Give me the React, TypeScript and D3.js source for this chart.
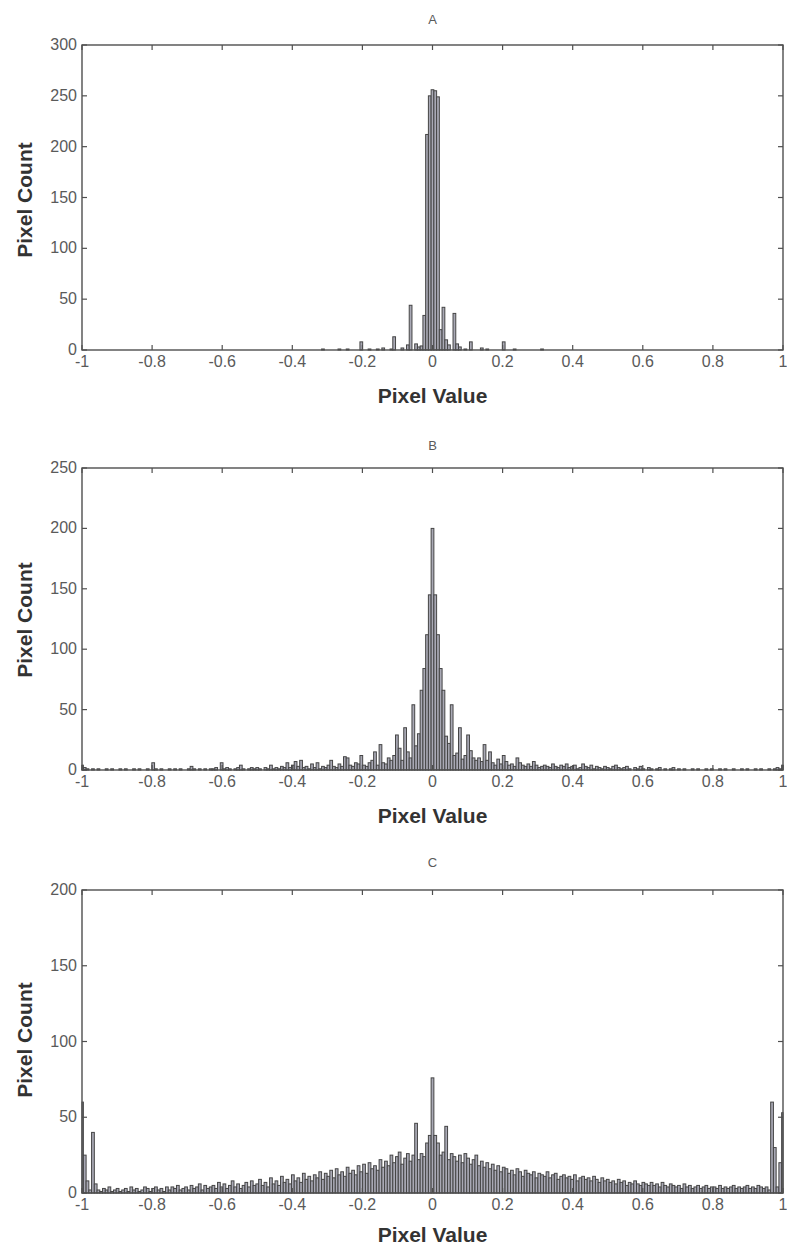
import React from 'react';
import * as d3 from 'd3';

// ---- data (bin centres k/128, k = -128..128) ----
const binStep = 1 / 128;
const binCenters: number[] = d3.range(-128, 129).map((k) => k * binStep);

const xTickValues = [-1, -0.8, -0.6, -0.4, -0.2, 0, 0.2, 0.4, 0.6, 0.8, 1];
const xTickLabels = ['-1', '-0.8', '-0.6', '-0.4', '-0.2', '0', '0.2', '0.4', '0.6', '0.8', '1'];
const yTicksA = [0, 50, 100, 150, 200, 250, 300];
const yTicksB = [0, 50, 100, 150, 200, 250];
const yTicksC = [0, 50, 100, 150, 200];
const panelTitles = ['A', 'B', 'C'];

const countsA = [
  0, 0, 0, 0, 0, 0, 0, 0, 0, 0, 0, 0, 0, 0, 0, 0,
  0, 0, 0, 0, 0, 0, 0, 0, 0, 0, 0, 0, 0, 0, 0, 0,
  0, 0, 0, 0, 0, 0, 0, 0, 0, 0, 0, 0, 0, 0, 0, 0,
  0, 0, 0, 0, 0, 0, 0, 0, 0, 0, 0, 0, 0, 0, 0, 0,
  0, 0, 0, 0, 0, 0, 0, 0, 0, 0, 0, 0, 0, 0, 0, 0,
  0, 0, 0, 0, 0, 0, 0, 0, 1, 0, 0, 0, 0, 0, 1, 0,
  0, 1, 0, 0, 0, 0, 8, 0, 0, 1, 0, 0, 1, 0, 2, 0,
  0, 1, 13, 0, 0, 2, 0, 5, 44, 0, 6, 3, 4, 34, 212, 250,
  256,
  255, 249, 20, 42, 10, 5, 0, 36, 6, 3, 0, 1, 0, 8, 0, 0,
  0, 2, 0, 1, 0, 0, 0, 0, 0, 8, 0, 0, 0, 1, 0, 0,
  0, 0, 0, 0, 0, 0, 0, 1, 0, 0, 0, 0, 0, 0, 0, 0,
  0, 0, 0, 0, 0, 0, 0, 0, 0, 0, 0, 0, 0, 0, 0, 0,
  0, 0, 0, 0, 0, 0, 0, 0, 0, 0, 0, 0, 0, 0, 0, 0,
  0, 0, 0, 0, 0, 0, 0, 0, 0, 0, 0, 0, 0, 0, 0, 0,
  0, 0, 0, 0, 0, 0, 0, 0, 0, 0, 0, 0, 0, 0, 0, 0,
  0, 0, 0, 0, 0, 0, 0, 0, 0, 0, 0, 0, 0, 0, 0, 0,
];

const countsB = [
  4, 2, 1, 0, 1, 0, 1, 0, 0, 1, 0, 1, 0, 0, 1, 0,
  1, 0, 0, 1, 0, 1, 0, 0, 1, 0, 6, 1, 0, 1, 0, 0,
  1, 0, 1, 0, 1, 0, 0, 1, 3, 1, 0, 1, 0, 1, 0, 1,
  1, 2, 0, 6, 1, 2, 1, 0, 1, 2, 4, 1, 0, 1, 2, 1,
  2, 1, 0, 2, 1, 4, 1, 2, 1, 3, 2, 6, 2, 4, 7, 3,
  8, 2, 3, 1, 5, 2, 6, 1, 3, 2, 4, 8, 3, 2, 5, 3,
  11, 10, 4, 3, 6, 5, 12, 4, 3, 6, 8, 15, 4, 21, 6, 5,
  10, 8, 12, 29, 18, 8, 35, 15, 10, 54, 20, 30, 66, 84, 112, 145,
  200,
  145, 112, 84, 66, 28, 22, 54, 12, 14, 35, 9, 12, 29, 16, 10, 8,
  10, 7, 21, 8, 15, 6, 4, 9, 5, 12, 7, 4, 5, 3, 10, 6,
  4, 3, 5, 3, 7, 4, 2, 3, 4, 3, 2, 5, 3, 2, 4, 3,
  5, 2, 3, 4, 1, 2, 5, 3, 2, 4, 1, 3, 2, 1, 3, 2,
  1, 3, 4, 2, 1, 2, 3, 1, 0, 2, 1, 3, 1, 0, 2, 1,
  0, 1, 2, 0, 1, 0, 1, 2, 0, 1, 0, 1, 0, 0, 1, 0,
  1, 0, 0, 1, 0, 1, 0, 0, 1, 0, 1, 0, 0, 1, 0, 0,
  1, 0, 1, 0, 0, 1, 0, 1, 0, 0, 1, 0, 1, 2, 1, 4,
];

const countsC = [
  60, 25, 8, 2, 40, 6, 2, 1, 3, 2, 4, 1, 2, 3, 1, 2,
  3, 1, 4, 2, 3, 1, 2, 4, 3, 1, 3, 4, 2, 3, 1, 4,
  2, 4, 3, 5, 2, 3, 4, 2, 5, 3, 4, 6, 2, 5, 3, 4,
  5, 3, 7, 4, 6, 3, 5, 8, 4, 6, 3, 5, 7, 4, 8, 5,
  6, 9, 5, 7, 4, 10, 6, 8, 5, 11, 7, 9, 6, 12, 8, 10,
  7, 13, 9, 11, 8, 12, 10, 14, 9, 13, 11, 15, 10, 16, 12, 14,
  11, 17, 13, 15, 12, 18, 14, 19, 13, 20, 16, 18, 15, 22, 17, 21,
  18, 25, 20, 24, 27, 19, 23, 26, 21, 25, 46, 22, 26, 24, 33, 38,
  76,
  38, 33, 25, 27, 44, 22, 26, 24, 21, 25, 20, 26, 23, 19, 22, 25,
  18, 21, 17, 20, 16, 19, 15, 18, 14, 17, 16, 13, 15, 12, 16, 14,
  11, 15, 13, 12, 14, 10, 13, 12, 11, 14, 10, 12, 13, 9, 11, 12,
  10, 11, 9, 12, 8, 10, 11, 9, 10, 8, 11, 9, 7, 10, 8, 9,
  7, 8, 6, 9, 7, 8, 5, 7, 6, 8, 6, 5, 7, 6, 5, 7,
  5, 6, 4, 7, 5, 4, 6, 5, 4, 5, 3, 6, 4, 5, 3, 4,
  5, 3, 4, 5, 3, 4, 4, 3, 5, 3, 4, 3, 4, 5, 3, 4,
  3, 4, 5, 3, 4, 3, 5, 4, 3, 4, 2, 60, 30, 4, 20, 53,
];

// ---- layout ----
const W = 787;
const H = 1251;
const PLOT_LEFT = 82;
const PLOT_RIGHT = 783;

const panels = [
  { title: panelTitles[0], counts: countsA, yTicks: yTicksA, top: 45, bottom: 350, titleY: 24, xLabelY: 403, yLabelY: 200 },
  { title: panelTitles[1], counts: countsB, yTicks: yTicksB, top: 468, bottom: 770, titleY: 450, xLabelY: 823, yLabelY: 620 },
  { title: panelTitles[2], counts: countsC, yTicks: yTicksC, top: 890, bottom: 1193, titleY: 867, xLabelY: 1242, yLabelY: 1040 },
];

const AXIS = '#4f4f4f';
const TEXT = '#5a5a5a';
const LABEL = '#333333';
const BAR_FILL = '#a9a9b5';
const BAR_EDGE = '#454545';
const FONT = '"Liberation Sans", Arial, sans-serif';

function Panel({ p }: { p: (typeof panels)[number] }) {
  const x = d3.scaleLinear().domain([-1, 1]).range([PLOT_LEFT, PLOT_RIGHT]);
  const yMax = d3.max(p.yTicks) as number;
  const y = d3.scaleLinear().domain([0, yMax]).range([p.bottom, p.top]);
  const tickLen = 5;
  const cx = (PLOT_LEFT + PLOT_RIGHT) / 2;

  return (
    <g>
      <text x={cx} y={p.titleY} textAnchor="middle" fontSize={13} fill={TEXT} fontFamily={FONT}>
        {p.title}
      </text>
      {/* bars */}
      <g>
        {p.counts.map((c, i) => {
          if (!c) return null;
          const v = binCenters[i];
          const x0 = Math.max(PLOT_LEFT, x(v - binStep / 2));
          const x1 = Math.min(PLOT_RIGHT, x(v + binStep / 2));
          return (
            <rect
              key={i}
              x={x0}
              y={y(c)}
              width={Math.max(0.5, x1 - x0)}
              height={p.bottom - y(c)}
              fill={BAR_FILL}
              stroke={BAR_EDGE}
              strokeWidth={1}
            />
          );
        })}
      </g>
      {/* box */}
      <rect
        x={PLOT_LEFT}
        y={p.top}
        width={PLOT_RIGHT - PLOT_LEFT}
        height={p.bottom - p.top}
        fill="none"
        stroke={AXIS}
        strokeWidth={1.4}
      />
      {/* x ticks */}
      {xTickValues.map((t, i) => (
        <g key={'x' + i}>
          <line x1={x(t)} x2={x(t)} y1={p.bottom} y2={p.bottom - tickLen} stroke={AXIS} strokeWidth={1.2} />
          <line x1={x(t)} x2={x(t)} y1={p.top} y2={p.top + tickLen} stroke={AXIS} strokeWidth={1.2} />
          <text x={x(t)} y={p.bottom + 17} textAnchor="middle" fontSize={16} fill={TEXT} fontFamily={FONT}>
            {xTickLabels[i]}
          </text>
        </g>
      ))}
      {/* y ticks */}
      {p.yTicks.map((t, i) => (
        <g key={'y' + i}>
          <line x1={PLOT_LEFT} x2={PLOT_LEFT + tickLen} y1={y(t)} y2={y(t)} stroke={AXIS} strokeWidth={1.2} />
          <line x1={PLOT_RIGHT} x2={PLOT_RIGHT - tickLen} y1={y(t)} y2={y(t)} stroke={AXIS} strokeWidth={1.2} />
          <text x={PLOT_LEFT - 5} y={y(t) + 5} textAnchor="end" fontSize={16} fill={TEXT} fontFamily={FONT}>
            {t}
          </text>
        </g>
      ))}
      <text x={cx} y={p.xLabelY} textAnchor="middle" fontSize={21} fontWeight="bold" fill={LABEL} fontFamily={FONT}>
        Pixel Value
      </text>
      <text
        transform={`translate(32,${p.yLabelY}) rotate(-90)`}
        textAnchor="middle"
        fontSize={21}
        fontWeight="bold"
        fill={LABEL}
        fontFamily={FONT}
      >
        Pixel Count
      </text>
    </g>
  );
}

export default function App() {
  return (
    <svg
      width={W}
      height={H}
      viewBox={`0 0 ${W} ${H}`}
      style={{ position: 'absolute', left: 0, top: 0, display: 'block', background: '#ffffff' }}
    >
      <rect x={0} y={0} width={W} height={H} fill="#ffffff" />
      {panels.map((p) => (
        <Panel key={p.title} p={p} />
      ))}
    </svg>
  );
}
